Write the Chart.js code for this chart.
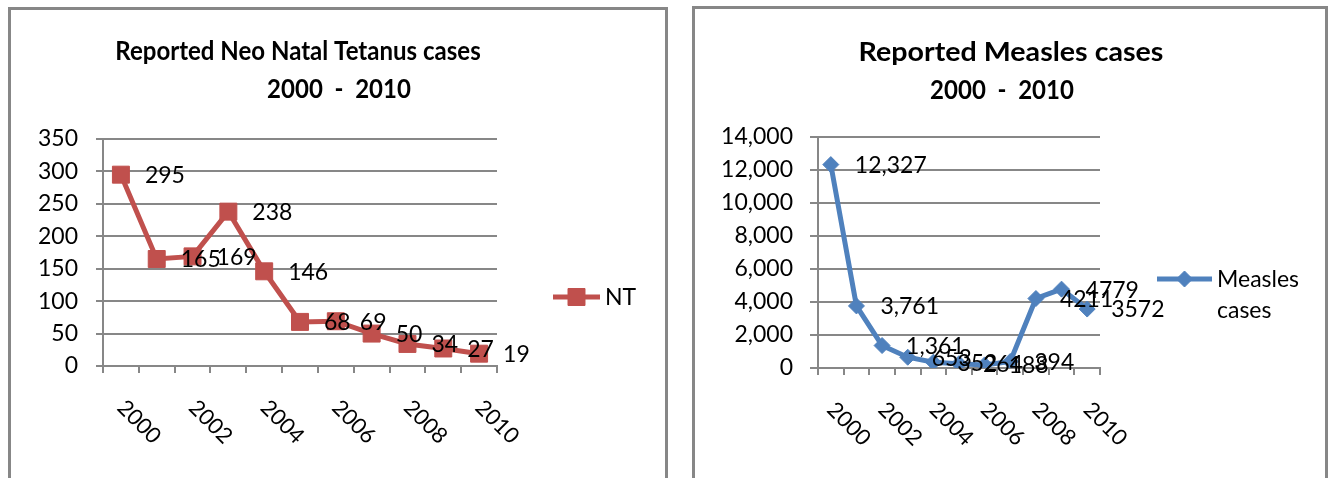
<!DOCTYPE html>
<html>
<head>
<meta charset="utf-8">
<title>Reported NT and Measles cases 2000 - 2010</title>
<script src="https://cdn.jsdelivr.net/npm/chart.js@4.4.0/dist/chart.umd.min.js"></script>
<style>
  body { margin: 0; background: #fff; width: 1328px; height: 478px; overflow: hidden; position: relative; }
  .panel { position: absolute; box-sizing: border-box; border: 3px solid #878787; border-bottom: none; }
  #leftPanel { left: 8px; top: 7px; width: 660px; height: 471px; }
  #rightPanel { left: 692px; top: 6px; width: 636px; height: 472px; }
  .panel canvas { display: block; }
</style>
</head>
<body>
<div class="panel" id="leftPanel"><canvas id="ntChart" width="654" height="468"></canvas></div>
<div class="panel" id="rightPanel"><canvas id="measlesChart" width="630" height="469"></canvas></div>
<script>
const years = ["2000", "2001", "2002", "2003", "2004", "2005", "2006", "2007", "2008", "2009", "2010"];
const yearTicks = ["2000", "2002", "2004", "2006", "2008", "2010"];
const ntCases = [295, 165, 169, 238, 146, 68, 69, 50, 34, 27, 19];
const measlesCases = [12327, 3761, 1361, 653, 352, 264, 188, 394, 4211, 4779, 3572];
// in the source sheet only the first three measles labels carry a thousands separator
const measlesGroupedCount = 3;
const ntTitle = ["Reported Neo Natal Tetanus cases", "2000  -  2010"];
const measlesTitle = ["Reported Measles cases", "2000  -  2010"];

const GRID = "#878787";
const FONT = "Lato, 'Open Sans', sans-serif";

// title, value labels, rotated year labels and the line+marker legend
const annotate = {
    id: "annotate",
    afterDatasetsDraw(chart, args, opts) {
        const ctx = chart.ctx;
        const ds = chart.data.datasets[0];
        const meta = chart.getDatasetMeta(0);
        const xScale = chart.scales.x;
        const mid = chart.width / 2;
        ctx.save();
        ctx.fillStyle = "#000";
        ctx.textBaseline = "middle";

        // title, drawn condensed like the original
        ctx.textAlign = "center";
        ctx.font = "bold 27px " + FONT;
        opts.title.forEach((t, i) => {
            ctx.save();
            ctx.translate(mid + opts.titleShift[i], opts.titleY + i * 38);
            ctx.scale(opts.titleScale[i], 1);
            ctx.fillText(t, 0, 0);
            ctx.restore();
        });

        ctx.textAlign = "left";
        ctx.font = "23px " + FONT;
        meta.data.forEach((pt, i) => {
            ctx.fillText(opts.format(ds.data[i], i), pt.x + 24, pt.y + 1);
        });

        ctx.font = "22px " + FONT;
        opts.ticks.forEach(lab => {
            const px = xScale.getPixelForValue(chart.data.labels.indexOf(lab));
            ctx.save();
            ctx.translate(px, xScale.top + 38);
            ctx.rotate(Math.PI / 4);
            ctx.fillText(lab, 0, 0);
            ctx.restore();
        });

        const lg = opts.legend;
        ctx.strokeStyle = ds.borderColor;
        ctx.lineWidth = ds.borderWidth;
        ctx.beginPath();
        ctx.moveTo(lg.x0, lg.y);
        ctx.lineTo(lg.x1, lg.y);
        ctx.stroke();
        ctx.fillStyle = ds.pointBackgroundColor;
        ctx.lineWidth = 1;
        Chart.helpers.drawPoint(ctx, { pointStyle: ds.pointStyle, radius: ds.pointRadius, borderWidth: 1, rotation: 0 }, (lg.x0 + lg.x1) / 2, lg.y);
        ctx.fillStyle = "#000";
        ctx.font = "23px " + FONT;
        lg.lines.forEach((t, i) => ctx.fillText(t, lg.x1 + 5, lg.y + 1 + i * 31));
        ctx.restore();
    }
};

function makeChart(id, cfg) {
    return new Chart(document.getElementById(id), {
        type: "line",
        data: {
            labels: years,
            datasets: [{
                label: cfg.name,
                data: cfg.data,
                borderColor: cfg.color,
                backgroundColor: cfg.color,
                pointBackgroundColor: cfg.color,
                pointBorderColor: cfg.color,
                borderWidth: 5,
                pointStyle: cfg.marker,
                pointRadius: cfg.radius,
                pointBorderWidth: 1,
                tension: 0
            }]
        },
        options: {
            responsive: false,
            animation: false,
            layout: { padding: { left: 0, right: cfg.padRight, top: cfg.padTop, bottom: 0 } },
            plugins: {
                legend: { display: false },
                tooltip: { enabled: false },
                title: { display: false },
                annotate: {
                    title: cfg.title, titleShift: cfg.titleShift, titleScale: cfg.titleScale, titleY: cfg.titleY,
                    format: cfg.format, ticks: yearTicks, legend: cfg.legend
                }
            },
            scales: {
                x: {
                    offset: true,
                    grid: { offset: true, drawOnChartArea: false, color: GRID, lineWidth: 2, tickLength: 7 },
                    border: { color: GRID, width: 2 },
                    ticks: { display: false },
                    afterFit: s => { s.height = cfg.xHeight; }
                },
                y: {
                    min: 0,
                    max: cfg.max,
                    ticks: { stepSize: cfg.step, color: "#000", padding: cfg.tickPad, font: { family: FONT, size: 23 } },
                    grid: { color: GRID, lineWidth: 2, tickLength: cfg.tickLen },
                    border: { color: GRID, width: 2 },
                    afterFit: s => { s.width = cfg.yWidth; }
                }
            }
        },
        plugins: [annotate]
    });
}

makeChart("ntChart", {
    name: "NT",
    data: ntCases,
    color: "#C0504D",
    marker: "rect",
    radius: 12,
    max: 350,
    step: 50,
    title: ntTitle,
    titleShift: [-40, 1],
    titleScale: [0.89, 0.89],
    titleY: 41,
    padTop: 129,
    padRight: 168,
    xHeight: 112,
    yWidth: 92,
    tickLen: 7,
    tickPad: 18,
    format: v => String(v),
    legend: { x0: 542, x1: 589, y: 287, lines: ["NT"] }
});

makeChart("measlesChart", {
    name: "Measles cases",
    data: measlesCases,
    color: "#4F81BD",
    marker: "rectRot",
    radius: 8,
    max: 14000,
    step: 2000,
    title: measlesTitle,
    titleShift: [1, -8],
    titleScale: [1.06, 0.89],
    titleY: 43,
    padTop: 128,
    padRight: 225,
    xHeight: 110,
    yWidth: 123,
    tickLen: 8,
    tickPad: 17,
    format: (v, i) => i < measlesGroupedCount ? v.toLocaleString("en-US") : String(v),
    legend: { x0: 462, x1: 517, y: 270, lines: ["Measles", "cases"] }
});
</script>
</body>
</html>
